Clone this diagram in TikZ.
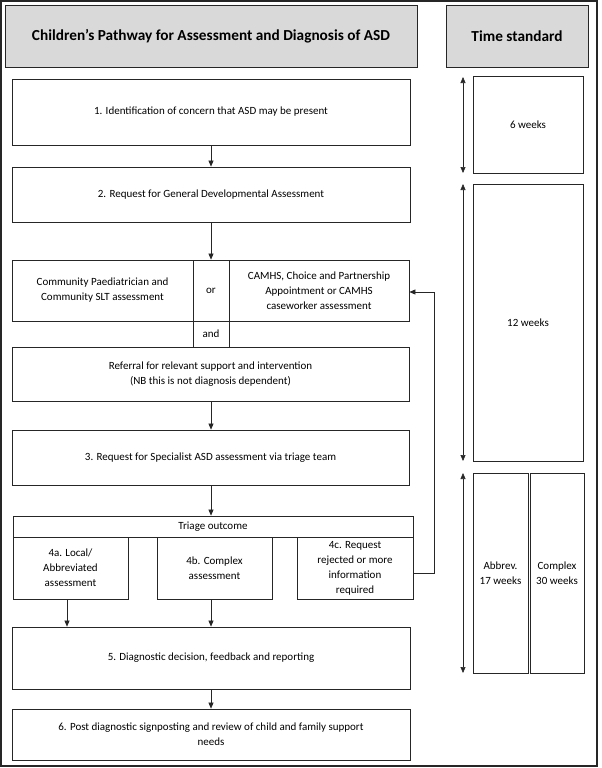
\documentclass[tikz,border=0pt]{standalone}
\usepackage{fontspec}
\setmainfont{Carlito}
\usetikzlibrary{arrows.meta}
\definecolor{hdrgrey}{HTML}{D9D9D9}
\definecolor{linec}{HTML}{262626}
\tikzset{
  box/.style={draw=linec, line width=0.8pt, rectangle, inner sep=1pt, align=center, font=\fontsize{11}{15}\selectfont},
  hdr/.style={box, fill=hdrgrey, font=\bfseries\fontsize{15.3}{18}\selectfont},
  arr/.style={draw=linec, line width=0.6pt, -{Triangle[length=6pt,width=5pt]}},
  darr/.style={draw=linec, line width=0.6pt, {Triangle[length=6pt,width=5pt]}-{Triangle[length=6pt,width=5pt]}},
}
\newcommand{\bx}[7][box]{\node[#1, minimum width={#4-#2}, minimum height={#5-#3}] (#6) at ({(#2+#4)/2},{(#3+#5)/2}) {#7};}
\begin{document}
\begin{tikzpicture}[x=1pt,y=-1pt]
\useasboundingbox (0,0) rectangle (602,768);
\draw[line width=1.6pt, draw=linec] (1,1) rectangle (597,766);
% headers
\bx[hdr]{5}{5}{417}{67}{h1}{Children’s Pathway for Assessment and Diagnosis of ASD}
\bx[hdr]{446}{5}{588}{67}{h2}{Time standard}
% left column
\bx{12}{79}{410}{145}{b1}{1. Identification of concern that ASD may be present}
\bx{12}{167}{410}{222}{b2}{2. Request for General Developmental Assessment}
\bx{12}{260}{193}{321}{ra}{Community Paediatrician and\\Community SLT assessment}
\bx{193}{260}{229}{321}{ror}{or}
\bx{229}{260}{409}{321}{rc}{CAMHS, Choice and Partnership\\Appointment or CAMHS\\caseworker assessment}
\bx{193}{321}{229}{347}{rand}{and}
\bx{12}{347}{409}{401}{ref}{Referral for relevant support and intervention\\(NB this is not diagnosis dependent)}
\bx{12}{430}{409}{485}{b3}{3. Request for Specialist ASD assessment via triage team}
\bx{13}{516}{413}{537}{tri}{Triage outcome}
\bx{13}{537}{128}{599}{t4a}{4a. Local/\\Abbreviated\\assessment}
\bx{157}{537}{272}{599}{t4b}{4b. Complex\\assessment}
\bx{297}{537}{413}{599}{t4c}{4c. Request\\rejected or more\\information\\required}
\bx{12}{627}{410}{689}{b5}{5. Diagnostic decision, feedback and reporting}
\bx{12}{709}{410}{760}{b6}{6. Post diagnostic signposting and review of child and family support\\needs}
% right column
\bx{473}{76}{583}{173}{w6}{6 weeks}
\bx{473}{184}{583}{461}{w12}{12 weeks}
\bx{473}{473}{528}{673}{wab}{Abbrev.\\17 weeks}
\bx{530}{473}{584}{673}{wcx}{Complex\\30 weeks}
% connectors
\draw[arr] (b1.south -| 211,0) -- (b2.north -| 211,0);
\draw[arr] (b2.south -| 211,0) -- (ror.north -| 211,0);
\draw[arr] (ref.south -| 211,0) -- (b3.north -| 211,0);
\draw[arr] (b3.south -| 211,0) -- (tri.north -| 211,0);
\draw[arr] (t4a.south -| 67,0) -- (b5.north -| 67,0);
\draw[arr] (t4b.south -| 211,0) -- (b5.north -| 211,0);
\draw[arr] (b5.south -| 211,0) -- (b6.north -| 211,0);
\coordinate (fb1) at (434,573);
\coordinate (fb2) at (434,292);
\draw[arr] (t4c.east |- fb1) -- (fb1) -- (fb2) -- (rc.east |- fb2);
% time arrows
\coordinate (ta1) at (463,77); \coordinate (ta2) at (463,173);
\coordinate (tb1) at (463,184); \coordinate (tb2) at (463,461);
\coordinate (tc1) at (463,473); \coordinate (tc2) at (463,673);
\draw[darr] (ta1) -- (ta2);
\draw[darr] (tb1) -- (tb2);
\draw[darr] (tc1) -- (tc2);
\end{tikzpicture}
\end{document}
